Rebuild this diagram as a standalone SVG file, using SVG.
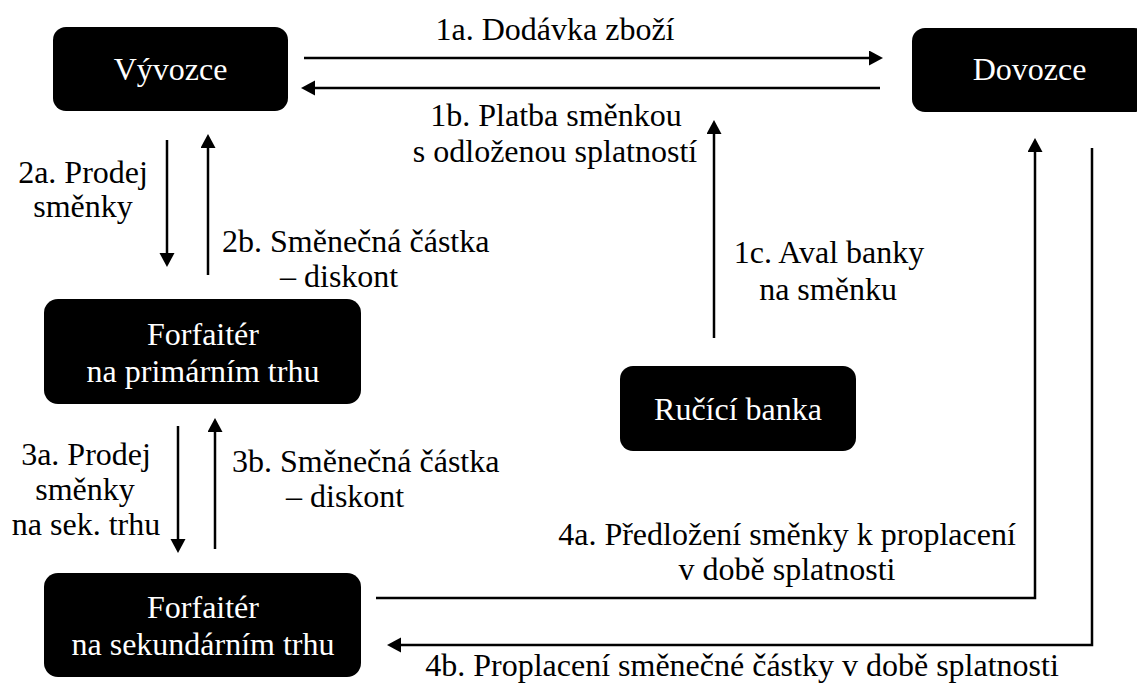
<svg xmlns="http://www.w3.org/2000/svg" width="1137" height="687" viewBox="0 0 1137 687">
<style>
.node rect{fill:#000}
.nt{font-family:'Liberation Serif','Times New Roman',serif;font-size:32px;fill:#fff;text-anchor:middle}
.lt{font-family:'Liberation Serif','Times New Roman',serif;font-size:32px;fill:#000}
.m{text-anchor:middle}
.c{fill:none;stroke:#000;stroke-width:2.5}
</style>
<defs>
<marker id="ah" markerUnits="userSpaceOnUse" markerWidth="16" markerHeight="16" refX="6" refY="7.5" orient="auto">
<path d="M0,0 L14,7.5 L0,15 z" fill="#000"/>
</marker>
</defs>
<rect width="1137" height="687" fill="#fff"/>
<g id="n-vyvozce" class="node"><rect x="53" y="27" width="235" height="84" rx="13"/><text class="nt" x="170.5" y="80">Vývozce</text></g>
<g id="n-dovozce" class="node"><rect x="912" y="28" width="235" height="84" rx="13"/><text class="nt" x="1029.5" y="80">Dovozce</text></g>
<g id="n-forf1" class="node"><rect x="44" y="299" width="317" height="105" rx="14"/><text class="nt" x="203" y="345">Forfaitér</text><text class="nt" x="203" y="382">na primárním trhu</text></g>
<g id="n-forf2" class="node"><rect x="44" y="573" width="317" height="104" rx="14"/><text class="nt" x="203" y="618">Forfaitér</text><text class="nt" x="203" y="655">na sekundárním trhu</text></g>
<g id="n-banka" class="node"><rect x="620" y="366" width="236" height="85" rx="13"/><text class="nt" x="738" y="420">Ručící banka</text></g>
<g id="connectors">
<path class="c" d="M304,58 H875" marker-end="url(#ah)"/>
<path class="c" d="M880,88 H309" marker-end="url(#ah)"/>
<path class="c" d="M714,338 V128" marker-end="url(#ah)"/>
<path class="c" d="M167,140 V259" marker-end="url(#ah)"/>
<path class="c" d="M208,275 V142" marker-end="url(#ah)"/>
<path class="c" d="M178,426 V545" marker-end="url(#ah)"/>
<path class="c" d="M215,549 V426" marker-end="url(#ah)"/>
<path class="c" d="M376,598 H1035 V146" marker-end="url(#ah)"/>
<path class="c" d="M1092,148 V645 H395" marker-end="url(#ah)"/>
</g>
<g id="labels">
<text class="lt m" x="555" y="40">1a. Dodávka zboží</text>
<text class="lt m" x="556" y="126">1b. Platba směnkou</text>
<text class="lt m" x="555" y="162">s odloženou splatností</text>
<text class="lt m" x="829" y="263">1c. Aval banky</text>
<text class="lt m" x="828" y="300">na směnku</text>
<text class="lt m" x="83" y="183">2a. Prodej</text>
<text class="lt m" x="83" y="217">směnky</text>
<text class="lt" x="222" y="252">2b. Směnečná částka</text>
<text class="lt" x="280" y="287">– diskont</text>
<text class="lt m" x="86" y="465">3a. Prodej</text>
<text class="lt m" x="85" y="500">směnky</text>
<text class="lt m" x="86" y="535">na sek. trhu</text>
<text class="lt" x="232" y="472">3b. Směnečná částka</text>
<text class="lt" x="286" y="507">– diskont</text>
<text class="lt m" x="787" y="545">4a. Předložení směnky k proplacení</text>
<text class="lt m" x="787" y="580">v době splatnosti</text>
<text class="lt m" x="742" y="676">4b. Proplacení směnečné částky v době splatnosti</text>
</g>
</svg>
